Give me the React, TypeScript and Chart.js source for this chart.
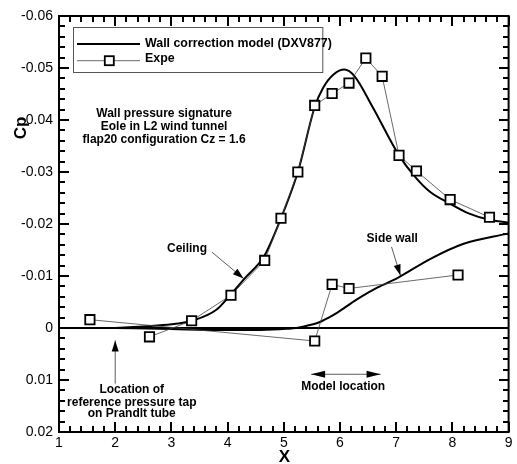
import React, { useEffect, useRef } from 'react';
import { Chart, registerables } from 'chart.js';

Chart.register(...registerables);

// ---------- data ----------
const X_MIN = 1;
const X_MAX = 9;
const Y_MIN = -0.06;
const Y_MAX = 0.02;

// Wall correction model (DXV877) - ceiling
const ceilingModelX = [2.0, 2.5, 3.0, 3.4, 3.8, 4.06, 4.3, 4.66, 5.0, 5.25, 5.55, 5.7, 5.89, 6.08, 6.26, 6.58, 7.05, 7.34, 7.6, 7.96, 8.3, 8.66, 9.0];
const ceilingModelCp = [0.0, -0.0003, -0.0007, -0.0015, -0.0035, -0.0065, -0.0095, -0.014, -0.0225, -0.03, -0.0425, -0.0462, -0.0488, -0.0497, -0.0484, -0.0425, -0.0332, -0.029, -0.0262, -0.0239, -0.022, -0.0208, -0.0203];

// Wall correction model (DXV877) - side wall
const sideModelX = [2.0, 3.0, 3.8, 4.4, 4.8, 5.05, 5.22, 5.4, 5.61, 5.8, 5.96, 6.3, 6.67, 7.02, 7.61, 8.2, 9.0];
const sideModelCp = [0.0, 0.0002, 0.0004, 0.0004, 0.0003, 0.00015, 0.0, -0.0004, -0.001, -0.002, -0.003, -0.0055, -0.0078, -0.0096, -0.0133, -0.0162, -0.0182];

// Expe - ceiling
const ceilingExpeX = [2.61, 3.36, 4.06, 4.66, 4.95, 5.25, 5.55, 5.86, 6.16, 6.46, 6.75, 7.05, 7.36, 7.96, 8.66];
const ceilingExpeCp = [0.0017, -0.0014, -0.0063, -0.013, -0.0211, -0.03, -0.0428, -0.0451, -0.0471, -0.0519, -0.0484, -0.0332, -0.0302, -0.0247, -0.0213];

// Expe - side wall
const sideExpeX = [1.55, 5.55, 5.86, 6.16, 8.1];
const sideExpeCp = [-0.0016, 0.0025, -0.0084, -0.0076, -0.0102];

// tick steps (major labelled, minor unlabelled)
const X_MINOR_STEP = 0.2;
const Y_MINOR_STEP = 0.002;

const legendLabels = ['Wall correction model (DXV877)', 'Expe'];
const titleLines = ['Wall pressure signature', 'Eole in L2 wind tunnel', 'flap20 configuration Cz = 1.6'];
const prandtlLines = ['Location of', 'reference pressure tap', 'on Prandlt tube'];

const FONT = '"Liberation Sans", Arial, Helvetica, sans-serif';

const toPts = (xs: number[], ys: number[]) => xs.map((x, i) => ({ x, y: ys[i] }));

const xTickValues: number[] = [];
for (let i = 0; i <= Math.round((X_MAX - X_MIN) / X_MINOR_STEP); i++) xTickValues.push(Math.round((X_MIN + i * X_MINOR_STEP) * 1000) / 1000);
const yTickValues: number[] = [];
for (let j = 0; j <= Math.round((Y_MAX - Y_MIN) / Y_MINOR_STEP); j++) yTickValues.push(Math.round((Y_MIN + j * Y_MINOR_STEP) * 100000) / 100000);

const isMajorX = (v: number) => Math.abs(v - Math.round(v)) < 1e-6;
const isMajorY = (v: number) => Math.abs(v * 100 - Math.round(v * 100)) < 1e-6;

function arrowHead(ctx: CanvasRenderingContext2D, x0: number, y0: number, x1: number, y1: number, len = 11, half = 3.5) {
  const a = Math.atan2(y1 - y0, x1 - x0);
  ctx.beginPath();
  ctx.moveTo(x1, y1);
  ctx.lineTo(x1 - len * Math.cos(a) + half * Math.sin(a), y1 - len * Math.sin(a) - half * Math.cos(a));
  ctx.lineTo(x1 - len * Math.cos(a) - half * Math.sin(a), y1 - len * Math.sin(a) + half * Math.cos(a));
  ctx.closePath();
  ctx.fill();
}

const decorPlugin = {
  id: 'decor',
  afterDraw(chart: any) {
    const ctx: CanvasRenderingContext2D = chart.ctx;
    const xs = chart.scales.x;
    const ys = chart.scales.y;
    const ca = chart.chartArea;
    const left: number = ca.left, right: number = ca.right, top: number = ca.top, bottom: number = ca.bottom;
    const px = (v: number) => xs.getPixelForValue(v);
    const py = (v: number) => ys.getPixelForValue(v);
    ctx.save();

    // inward tick marks, 2px wide, pixel aligned
    ctx.fillStyle = '#000000';
    xTickValues.forEach((v) => {
      const x = Math.round(px(v));
      const L = isMajorX(v) ? 10 : 6;
      ctx.fillRect(x - 1, Math.round(bottom) - L, 2, L);
      ctx.fillRect(x - 1, Math.round(top), 2, L);
    });
    yTickValues.forEach((v) => {
      const y = Math.round(py(v));
      const L = isMajorY(v) ? 10 : 6;
      ctx.fillRect(Math.round(left), y - 1, L, 2);
      ctx.fillRect(Math.round(right) - L, y - 1, L, 2);
    });

    // frame
    ctx.strokeStyle = 'black';
    ctx.lineWidth = 2;
    ctx.strokeRect(left, top, right - left, bottom - top);

    // axis titles
    ctx.fillStyle = 'black';
    ctx.font = `bold 17px ${FONT}`;
    ctx.textAlign = 'center';
    ctx.textBaseline = 'middle';
    ctx.fillText('X', (left + right) / 2 + 0.5, 457);
    ctx.save();
    ctx.translate(21, 128);
    ctx.rotate(-Math.PI / 2);
    ctx.fillText('Cp', 0, 0);
    ctx.restore();

    // annotation texts
    ctx.font = `bold 12px ${FONT}`;
    const tY = [-0.0412, -0.0387, -0.0363];
    titleLines.forEach((t, i) => ctx.fillText(t, px(2.87), py(tY[i])));

    ctx.fillText('Ceiling', px(3.278), py(-0.0152));
    ctx.fillText('Side wall', px(6.93), py(-0.0172));
    ctx.fillText('Model location', px(6.056), py(0.0112));
    const pY = [0.0118, 0.0143, 0.0165];
    prandtlLines.forEach((t, i) => ctx.fillText(t, px(2.295), py(pY[i])));

    // arrows
    ctx.lineWidth = 0.8;
    ctx.strokeStyle = '#333';
    const arrows: [number, number, number, number][] = [
      [3.72, -0.0146, 4.285, -0.0095],
      [6.917, -0.0156, 7.075, -0.0101],
      [2.0, 0.0107, 2.0, 0.0024],
    ];
    arrows.forEach(([a, b, c, d]) => {
      ctx.beginPath();
      ctx.moveTo(px(a), py(b));
      ctx.lineTo(px(c), py(d));
      ctx.stroke();
      arrowHead(ctx, px(a), py(b), px(c), py(d));
    });
    // double arrow for model location
    const mx0 = px(5.486), mx1 = px(6.722), my = py(0.0089);
    ctx.beginPath(); ctx.moveTo(mx0, my); ctx.lineTo(mx1, my); ctx.stroke();
    arrowHead(ctx, mx1, my, mx0, my, 14, 3.5);
    arrowHead(ctx, mx0, my, mx1, my, 14, 3.5);

    // legend
    const lx = left + 13.7, ly = top + 10.7, lw = 249.3, lh = 45;
    ctx.lineWidth = 1;
    ctx.strokeStyle = '#555';
    ctx.strokeRect(Math.round(lx) + 0.5, Math.round(ly) + 0.5, lw, lh);
    ctx.strokeStyle = '#000';
    ctx.lineWidth = 2;
    ctx.beginPath(); ctx.moveTo(left + 18, top + 28); ctx.lineTo(left + 81, top + 28); ctx.stroke();
    ctx.lineWidth = 0.8;
    ctx.strokeStyle = '#444';
    ctx.beginPath(); ctx.moveTo(left + 18, top + 44.7); ctx.lineTo(left + 81, top + 44.7); ctx.stroke();
    ctx.fillStyle = '#fff';
    ctx.strokeStyle = '#000';
    ctx.lineWidth = 1.8;
    ctx.fillRect(left + 50.3 - 4.5, top + 44.7 - 4.5, 9, 9);
    ctx.strokeRect(left + 50.3 - 4.5, top + 44.7 - 4.5, 9, 9);
    ctx.fillStyle = '#000';
    ctx.font = `bold 12.4px ${FONT}`;
    ctx.textAlign = 'left';
    ctx.fillText(legendLabels[0], left + 86, top + 28);
    ctx.fillText(legendLabels[1], left + 86, top + 42.5);
    ctx.restore();
  },
};

export default function App() {
  const ref = useRef<HTMLCanvasElement | null>(null);
  useEffect(() => {
    if (!ref.current) return;
    const expeStyle = {
      showLine: true,
      borderColor: '#444',
      borderWidth: 0.8,
      pointStyle: 'rect' as const,
      pointRadius: 6.6,
      pointBorderWidth: 1.8,
      pointBorderColor: '#000',
      pointBackgroundColor: '#fff',
      tension: 0,
    };
    const modelStyle = {
      showLine: true,
      borderColor: '#000',
      borderWidth: 2,
      pointRadius: 0,
      cubicInterpolationMode: 'monotone' as const,
    };
    const chart = new Chart(ref.current, {
      type: 'scatter',
      data: {
        datasets: [
          { label: legendLabels[1], data: toPts(ceilingExpeX, ceilingExpeCp), ...expeStyle },
          { label: legendLabels[1], data: toPts(sideExpeX, sideExpeCp), ...expeStyle },
          { label: legendLabels[0], data: toPts(ceilingModelX, ceilingModelCp), ...modelStyle },
          { label: legendLabels[0], data: toPts(sideModelX, sideModelCp), ...modelStyle },
          { label: 'zero', data: [{ x: X_MIN, y: 0 }, { x: X_MAX, y: 0 }], showLine: true, borderColor: '#000', borderWidth: 2, pointRadius: 0 },
        ],
      },
      options: {
        responsive: false,
        animation: false,
        layout: { padding: { top: 16, right: 5, left: 0, bottom: 0 } },
        plugins: { legend: { display: false }, tooltip: { enabled: false } },
        scales: {
          x: {
            type: 'linear',
            min: X_MIN,
            max: X_MAX,
            grid: { display: false, drawTicks: false },
            border: { display: false },
            ticks: { stepSize: 1, color: '#000', font: { family: FONT, size: 14 }, padding: 3, maxRotation: 0 },
            afterFit: (s: any) => { s.height = 32; s.paddingLeft = 0; s.paddingRight = 0; },
          },
          y: {
            type: 'linear',
            reverse: true,
            min: Y_MIN,
            max: Y_MAX,
            grid: { display: false, drawTicks: false },
            border: { display: false },
            ticks: {
              stepSize: 0.01,
              color: '#000',
              font: { family: FONT, size: 14 },
              padding: 6,
              callback: (v: any) => {
                const r = Math.round(Number(v) * 100) / 100;
                return r === 0 ? '0' : r.toFixed(2);
              },
            },
            afterFit: (s: any) => { s.width = 59; s.paddingTop = 0; s.paddingBottom = 0; },
          },
        },
      },
      plugins: [decorPlugin],
    } as any);
    return () => chart.destroy();
  }, []);
  return (
    <div style={{ position: 'fixed', left: 0, top: 0, width: 517, height: 464, background: '#fff' }}>
      <canvas ref={ref} width={517} height={464} style={{ width: 517, height: 464, display: 'block' }} />
    </div>
  );
}
